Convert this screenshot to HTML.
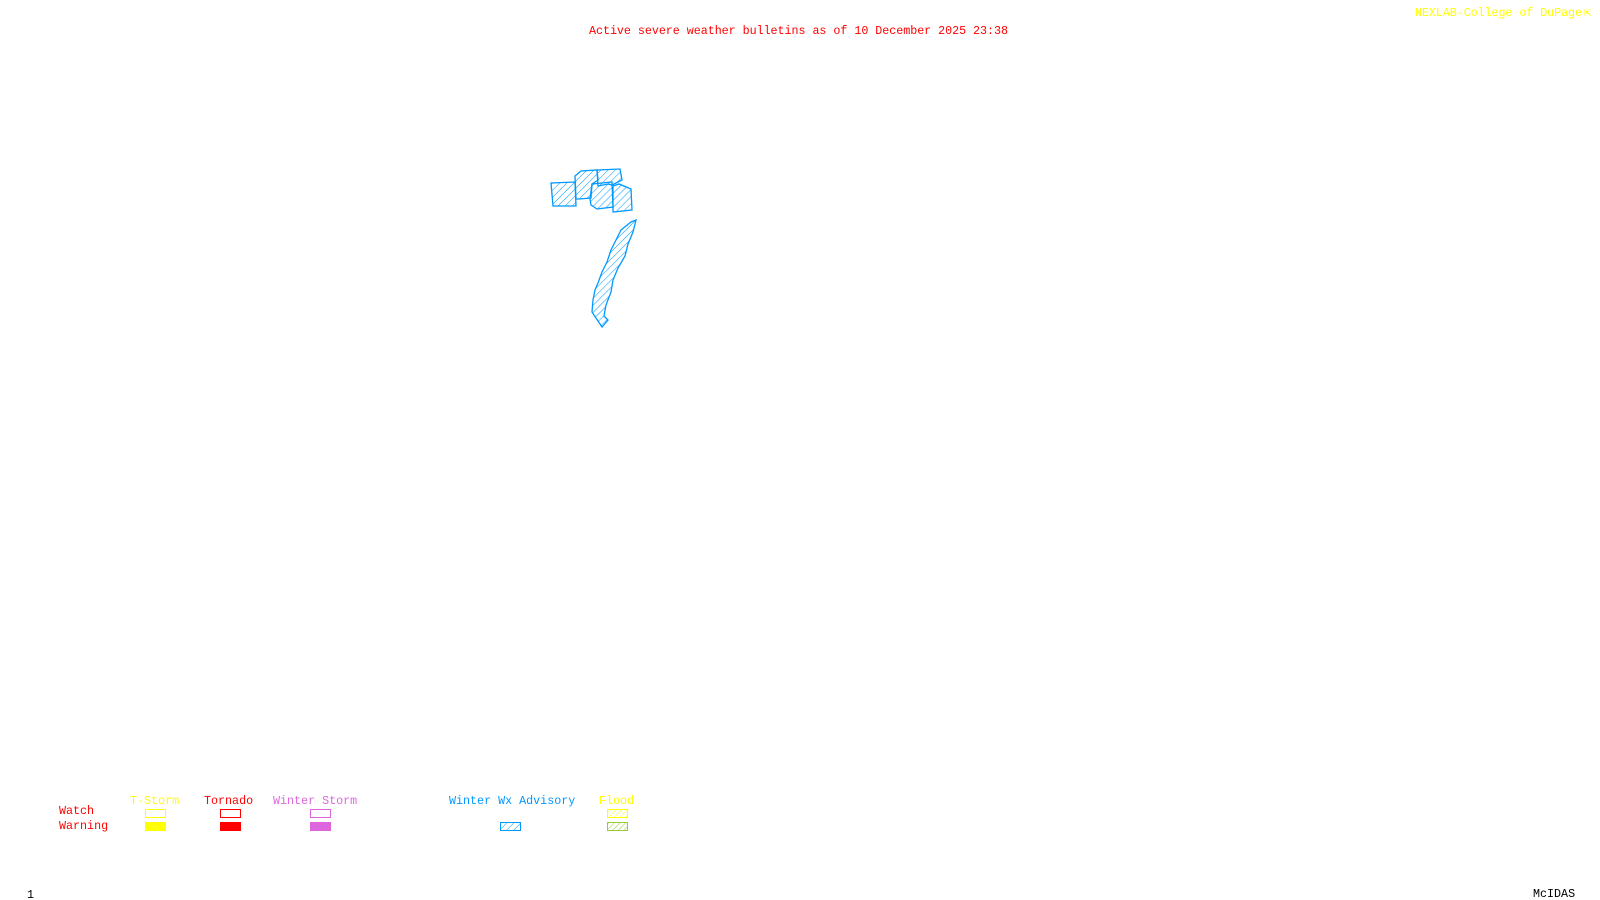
<!DOCTYPE html>
<html><head><meta charset="utf-8"><style>
html,body{margin:0;padding:0;background:#fff;width:1600px;height:900px;overflow:hidden}
svg{display:block}
text{font-family:"Liberation Mono",monospace;font-size:11.7px}
</style></head><body>
<svg width="1600" height="900" viewBox="0 0 1600 900">
<defs>
<pattern id="h" width="5" height="5" patternUnits="userSpaceOnUse" patternTransform="rotate(45)">
<line x1="0" y1="0" x2="0" y2="5" stroke="#0099ff" stroke-width="1"/>
</pattern>
<pattern id="hy" width="4" height="4" patternUnits="userSpaceOnUse" patternTransform="rotate(45)">
<line x1="0" y1="0" x2="0" y2="4" stroke="#ffff00" stroke-width="1"/>
</pattern>
<pattern id="hg" width="4" height="4" patternUnits="userSpaceOnUse" patternTransform="rotate(45)">
<line x1="0" y1="0" x2="0" y2="4" stroke="#99cc33" stroke-width="1"/>
</pattern>
</defs>
<text x="589" y="34" fill="#ff0000" font-size="13.3" textLength="419">Active severe weather bulletins as of 10 December 2025 23:38</text>
<text x="1415" y="16" fill="#ffff00" textLength="167">NEXLAB-College of DuPage</text>
<text x="1584" y="16" fill="#ffff00">⇱</text>
<g fill="url(#h)" stroke="#0099ff" stroke-width="1.3">
<polygon points="551,183 575,182 576,206 553,206"/>
<polygon points="575,176 581,171 597,170 598,180 592,184 591,198 579,199 576,199"/>
<polygon points="597,170 620,169 622,180 612,185 608,184 598,186"/>
<polygon points="592,184 612,182 613,207 597,209 591,205 590,199"/>
<polygon points="613,186 619,184 631,189 632,210 613,212"/>
<polygon points="631,222 636,220 633,232 628,244 625,256 618,268 613,280 611,292 606,305 604,316 608,320 602,327 596,318 592,312 593,300 595,290 598,283 602,272 607,262 611,250 616,240 621,230"/>
</g>
<g stroke-width="1" fill="none">
<text x="59" y="814" fill="#ff0000">Watch</text>
<text x="59" y="829" fill="#ff0000">Warning</text>
<text x="130" y="804" fill="#ffff00">T-Storm</text>
<text x="204" y="804" fill="#ff0000">Tornado</text>
<text x="273" y="804" fill="#dd66dd">Winter Storm</text>
<text x="449" y="804" fill="#0099ff">Winter Wx Advisory</text>
<text x="599" y="804" fill="#ffff00">Flood</text>
<rect x="145.5" y="809.5" width="20" height="8" stroke="#ffff00"/>
<rect x="145" y="822" width="21" height="9" fill="#ffff00"/>
<rect x="220.5" y="809.5" width="20" height="8" stroke="#ff0000"/>
<rect x="220" y="822" width="21" height="9" fill="#ff0000"/>
<rect x="310.5" y="809.5" width="20" height="8" stroke="#dd66dd"/>
<rect x="310" y="822" width="21" height="9" fill="#dd66dd"/>
<rect x="500.5" y="822.5" width="20" height="8" stroke="#0099ff" fill="url(#h)"/>
<rect x="607.5" y="809.5" width="20" height="8" stroke="#ffff00" fill="url(#hy)"/>
<rect x="607.5" y="822.5" width="20" height="8" stroke="#99cc33" fill="url(#hg)"/>
</g>
<text x="27" y="898" fill="#000">1</text>
<text x="1533" y="897" fill="#000">McIDAS</text>
</svg>
</body></html>
